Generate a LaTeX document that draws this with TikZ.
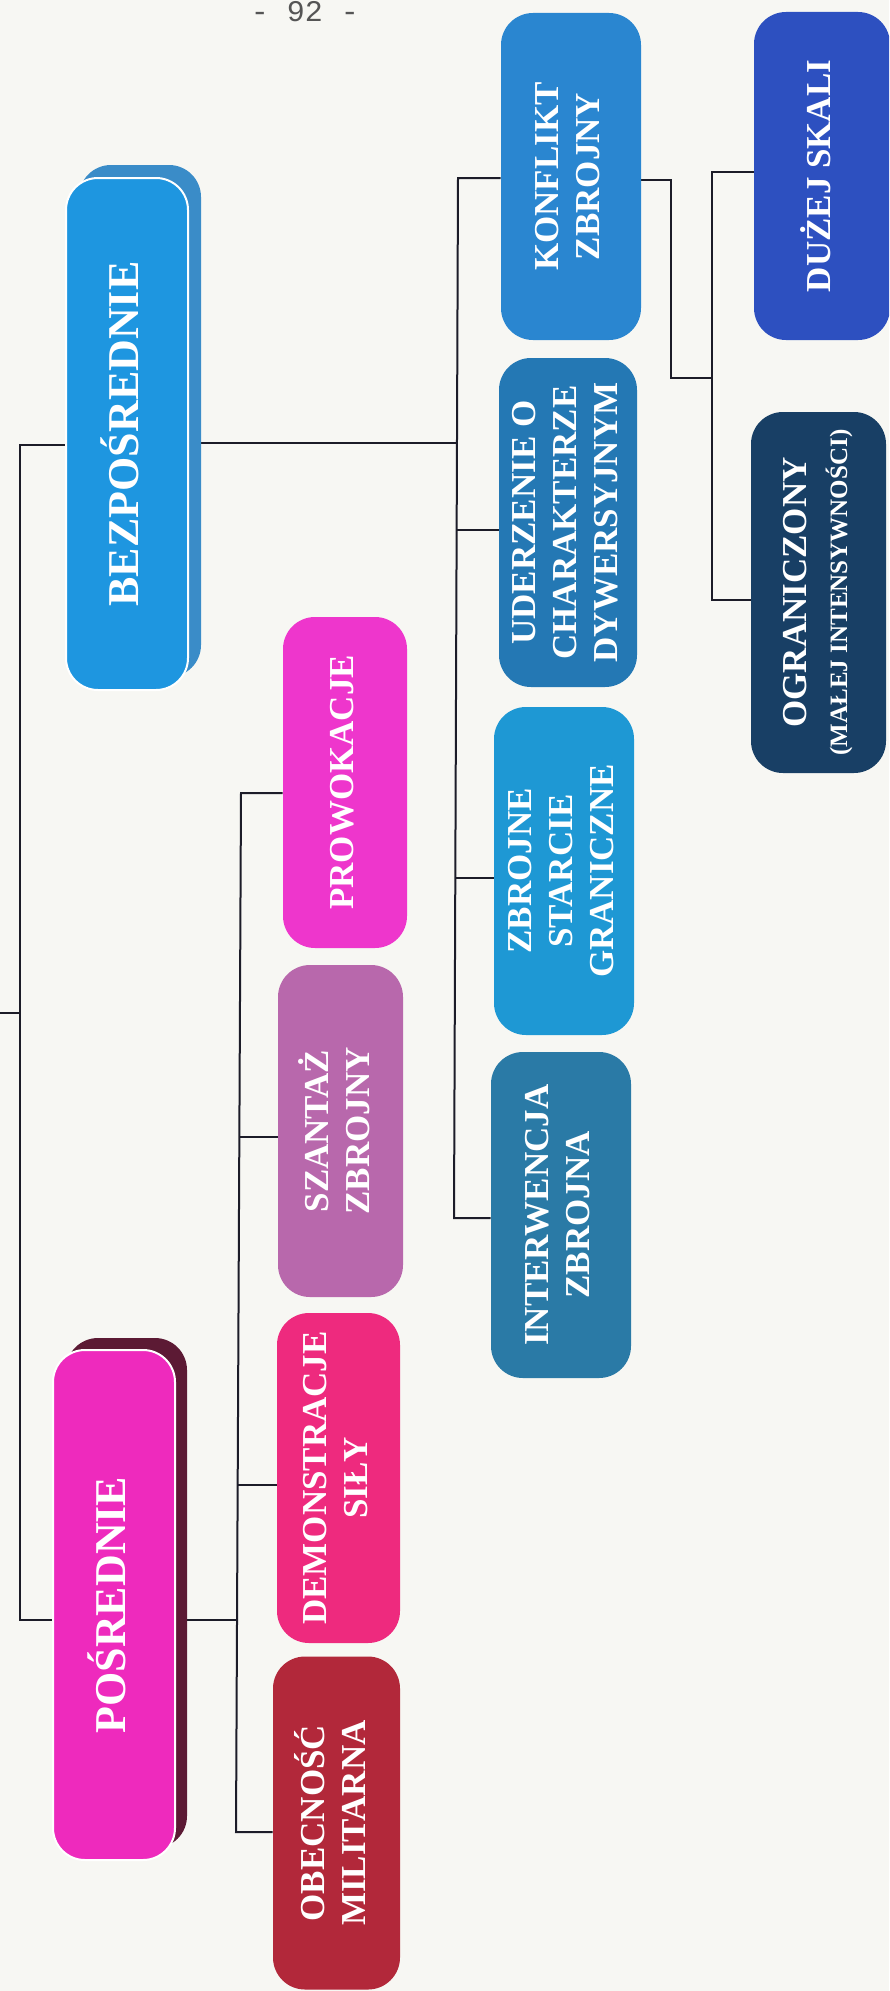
\documentclass[tikz,border=0pt]{standalone}
\usepackage{fontspec}
\setmainfont{Liberation Serif}
\setmonofont{Liberation Mono}
\pgfdeclarelayer{pagebg}
\pgfdeclarelayer{lines}
\pgfsetlayers{pagebg,lines,main}

\definecolor{paper}{HTML}{F7F7F3}
\definecolor{linec}{HTML}{1C1C28}
\definecolor{bezc}{HTML}{1E96E0}
\definecolor{bezsh}{HTML}{3A8CC8}
\definecolor{posc}{HTML}{EE2ABD}
\definecolor{possh}{HTML}{5C1A34}
\definecolor{prowc}{HTML}{EE36CC}
\definecolor{szanc}{HTML}{B868AC}
\definecolor{democ}{HTML}{EE2A7E}
\definecolor{obecc}{HTML}{B2283A}
\definecolor{konfc}{HTML}{2A86D0}
\definecolor{uderc}{HTML}{2478B4}
\definecolor{zbroc}{HTML}{1E98D4}
\definecolor{intec}{HTML}{2A7AA6}
\definecolor{duzec}{HTML}{2D50C0}
\definecolor{ograc}{HTML}{183F65}
\definecolor{pnumc}{HTML}{555555}

\newcommand\vlab[1]{\rotatebox{90}{\begin{tabular}{@{}c@{}}#1\end{tabular}}}

\tikzset{
  box/.style={rectangle, rounded corners=16pt, inner sep=0pt, text=white,
    font=\bfseries\fontsize{17.5}{20.5}\selectfont},
  bigbox/.style={box, draw=white, line width=1pt,
    font=\bfseries\fontsize{22}{26}\selectfont},
  conn/.style={draw=linec, line width=1pt},
  shadowbox/.style={rounded corners=16pt},
}

\begin{document}
\begin{tikzpicture}[x=0.5pt,y=-0.5pt]
\useasboundingbox (0,0) rectangle (889,1991);
\clip (0,0) rectangle (889,1991);
\begin{pgfonlayer}{pagebg}
  \fill[paper] (0,0) rectangle (889,1991);
\end{pgfonlayer}

% page number
\node[font=\ttfamily\fontsize{15}{18}\selectfont, text=pnumc, anchor=base] (pnum) at (305,22) {- 92 -};

% shadows of the two main boxes
\fill[bezsh, shadowbox] (79,165) rectangle (201,677);
\fill[possh, shadowbox] (66,1338) rectangle (187,1848);

% main boxes
\node[bigbox, fill=bezc, minimum width=61pt, minimum height=256pt] (bez) at (127,434) {\vlab{BEZPOŚREDNIE}};
\node[bigbox, fill=posc, minimum width=61pt, minimum height=255pt] (pos) at (114,1605) {\vlab{POŚREDNIE}};

% second level (indirect)
\node[box, fill=prowc, minimum width=62pt, minimum height=165.5pt] (prow) at (345,782.5) {\vlab{PROWOKACJE}};
\node[box, fill=szanc, minimum width=62.5pt, minimum height=166pt] (szan) at (340.5,1131) {\vlab{SZANTAŻ\\ZBROJNY}};
\node[box, fill=democ, minimum width=61.5pt, minimum height=165pt] (demo) at (338.5,1478) {\vlab{DEMONSTRACJE\\SIŁY}};
\node[box, fill=obecc, minimum width=63.5pt, minimum height=166.5pt] (obec) at (336.5,1823) {\vlab{OBECNOŚĆ\\MILITARNA}};

% second level (direct)
\node[box, fill=konfc, minimum width=70pt, minimum height=163.5pt] (konf) at (571,176.5) {\vlab{KONFLIKT\\ZBROJNY}};
\node[box, fill=uderc, minimum width=69pt, minimum height=164.5pt] (uder) at (568,522.5) {\vlab{UDERZENIE O\\CHARAKTERZE\\DYWERSYJNYM}};
\node[box, fill=zbroc, minimum width=70pt, minimum height=164pt] (zbro) at (564,871) {\vlab{ZBROJNE\\STARCIE\\GRANICZNE}};
\node[box, fill=intec, minimum width=70pt, minimum height=163pt] (inte) at (561,1215) {\vlab{INTERWENCJA\\ZBROJNA}};

% third level
\node[box, fill=duzec, minimum width=68pt, minimum height=164pt] (duze) at (822,176) {\vlab{DUŻEJ SKALI}};
\node[box, fill=ograc, minimum width=67.5pt, minimum height=180.5pt] (ogra) at (818.5,592.5) {\vlab{OGRANICZONY\\{\fontsize{12.5}{15}\selectfont (MAŁEJ INTENSYWNOŚCI)}}};

\coordinate (root) at (0,1013);

\begin{pgfonlayer}{lines}
  % root bus
  \draw[conn] (root) -- (20,1013);
  \draw[conn] (bez.west |- 0,445) -- (20,445) -- (20,1620) -- (pos.west |- 0,1620);
  % direct bus
  \draw[conn] (bez.east |- 0,443) -- (457,443);
  \draw[conn] (konf.west |- 0,178) -- (458,178) -- (454,1218) -- (inte.west |- 0,1218);
  \draw[conn] (457,530) -- (uder.west |- 0,530);
  \draw[conn] (455,878) -- (zbro.west |- 0,878);
  % conflict bus
  \draw[conn] (konf.east |- 0,180) -- (671,180) -- (671,378) -- (712,378);
  \draw[conn] (duze.west |- 0,172) -- (712,172) -- (712,600) -- (ogra.west |- 0,600);
  % indirect bus
  \draw[conn] (pos.east |- 0,1620) -- (237,1620);
  \draw[conn] (prow.west |- 0,793) -- (241,793) -- (236,1832) -- (obec.west |- 0,1832);
  \draw[conn] (239,1137) -- (szan.west |- 0,1137);
  \draw[conn] (237,1485) -- (demo.west |- 0,1485);
\end{pgfonlayer}
\end{tikzpicture}
\end{document}
